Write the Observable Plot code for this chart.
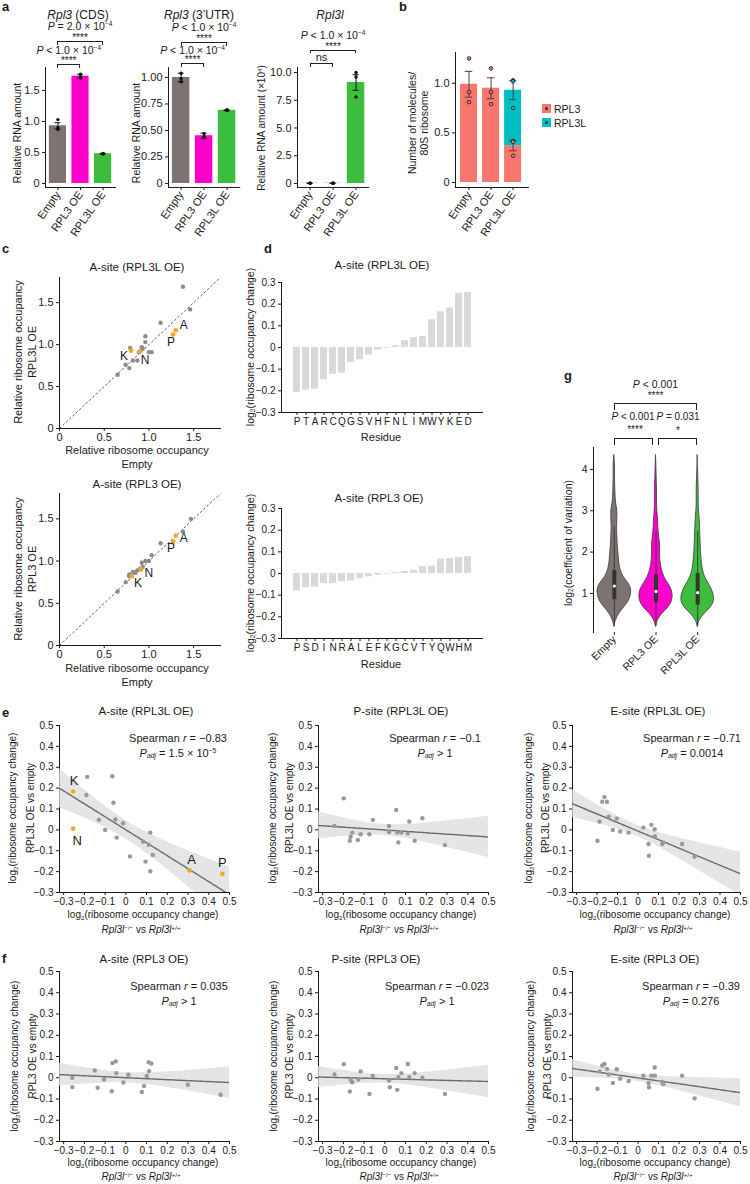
<!DOCTYPE html>
<html><head><meta charset="utf-8">
<script src="https://cdn.jsdelivr.net/npm/d3@7"></script>
<script src="https://cdn.jsdelivr.net/npm/@observablehq/plot@0.6"></script>
<style>
body{margin:0;background:#fff;}
#fig{position:relative;width:750px;height:1184px;overflow:hidden;font-family:"Liberation Sans",Arial,Helvetica,sans-serif;color:#1a1a1a;background:#fff;}
.t{position:absolute;white-space:nowrap;line-height:1;}
.t sup{font-size:0.62em;vertical-align:0.55em;line-height:0;}
.t sub{font-size:0.62em;vertical-align:-0.25em;line-height:0;}
.br{position:absolute;border:1px solid #222;border-bottom:none;box-sizing:border-box;}
</style></head><body><div id="fig"></div>
<script>
// ===================== DATA =====================
const groups = ["Empty", "RPL3 OE", "RPL3L OE"];
const groupColors = ["#7d7471", "#ff00cc", "#3dbd3d"];

// a: relative RNA amount
const cdsMean = [0.93, 1.73, 0.48];
const cdsSE = [0.05, 0.03, 0.006];
const cdsPoints = [[1.03, 0.90, 0.87], [1.76, 1.72, 1.70], [0.485, 0.48, 0.475]];
const utrMean = [1.00, 0.45, 0.69];
const utrSE = [0.04, 0.025, 0.004];
const utrPoints = [[1.04, 0.99, 0.96], [0.47, 0.44, 0.43], [0.695, 0.69, 0.69]];
const rpl3lMean = [0.02, 0.02, 9.1];
const rpl3lSE = [0.005, 0.005, 0.7];
const rpl3lPoints = [[0.02, 0.02, 0.02], [0.02, 0.02, 0.02], [10.0, 9.6, 7.8]];
const cdsTicks = [0, 0.5, 1.0, 1.5];
const utrTicks = [0, 0.25, 0.5, 0.75, 1.0];
const rpl3lTicks = [0, 2.5, 5, 7.5, 10];

// b: molecules per 80S ribosome
const proteins = ["RPL3", "RPL3L"];
const proteinColors = ["#f8766d", "#00bfc4"];
const bRPL3 = [0.99, 0.95, 0.37];
const bRPL3L = [0, 0, 0.56];
const bTotalSE = [0.13, 0.105, 0.095];
const bRPL3PartSE = [0, 0, 0.05];
const bPointsRPL3 = [[1.25, 0.91, 0.81], [1.15, 0.91, 0.79], [0.42, 0.41, 0.27]];
const bPointsTotalRPL3L = [[], [], [1.03, 0.75, 1.02]];
const bTicks = [0, 0.5, 1.0];

// c: relative ribosome occupancy (A-site)
const cL_empty = [1.38, 1.46, 1.13, 0.96, 0.96, 0.79, 0.92, 0.89, 1.00, 1.03, 0.87, 0.82, 0.74, 0.78, 0.65, 0.93, 1.30, 1.27, 0.80, 0.90];
const cL_oe    = [1.69, 1.42, 1.26, 1.10, 1.03, 0.96, 0.97, 0.91, 0.91, 0.91, 0.81, 0.81, 0.76, 0.72, 0.64, 0.95, 1.17, 1.12, 0.93, 0.92];
const cL_lab   = ["", "", "", "", "", "", "", "", "", "", "", "", "", "", "", "", "A", "P", "K", "N"];
const c3_empty = [1.47, 1.38, 1.13, 1.03, 1.00, 0.96, 0.92, 0.90, 0.87, 0.82, 0.78, 0.78, 0.74, 0.65, 0.93, 0.85, 1.30, 1.27, 0.81, 0.91];
const c3_oe    = [1.50, 1.35, 1.21, 1.07, 1.00, 1.00, 0.98, 0.91, 0.89, 0.87, 0.84, 0.82, 0.75, 0.64, 0.93, 0.86, 1.30, 1.23, 0.82, 0.90];
const c3_lab   = ["", "", "", "", "", "", "", "", "", "", "", "", "", "", "", "", "A", "P", "K", "N"];
const cTicks = [0, 0.5, 1.0, 1.5];

// d: log2 occupancy change per residue
const dL_res = ["P","T","A","R","C","Q","G","S","V","H","F","N","L","I","M","W","Y","K","E","D"];
const dL_val = [-0.208,-0.197,-0.192,-0.149,-0.123,-0.118,-0.069,-0.057,-0.035,-0.012,-0.003,0.008,0.031,0.046,0.051,0.128,0.165,0.182,0.251,0.254];
const d3_res = ["P","S","D","I","N","R","A","L","E","F","K","G","C","V","T","Y","Q","W","H","M"];
const d3_valR = [-0.080,-0.066,-0.063,-0.046,-0.046,-0.038,-0.034,-0.023,-0.015,-0.008,-0.003,0.005,0.009,0.015,0.031,0.034,0.066,0.069,0.074,0.077];
const dTicks = [-0.3, -0.2, -0.1, 0, 0.1, 0.2, 0.3];

// g: violins (density profile, normalised)
const vLevels = [0.2,0.35,0.5,0.65,0.8,0.95,1.1,1.25,1.4,1.6,1.8,2.0,2.2,2.4,2.6,2.8,3.0,3.2,3.5,3.8,4.1,4.35];
const vEmpty = [0,0.1,0.28,0.56,0.84,0.98,1.0,0.84,0.56,0.36,0.28,0.24,0.2,0.18,0.16,0.18,0.18,0.1,0.06,0.04,0.04,0];
const vRPL3  = [0,0.12,0.36,0.72,0.94,1.0,0.92,0.72,0.5,0.34,0.26,0.24,0.24,0.18,0.14,0.12,0.08,0.06,0.06,0.04,0.02,0];
const vRPL3L = [0,0.12,0.4,0.76,0.96,0.96,0.84,0.64,0.44,0.3,0.24,0.2,0.18,0.16,0.14,0.12,0.08,0.06,0.06,0.04,0.01,0];
const gMedian = [1.18, 1.05, 1.02];
const gQ1 = [0.85, 0.78, 0.72];
const gQ3 = [1.55, 1.45, 1.48];
const gWhiskLo = [0.2, 0.2, 0.2];
const gWhiskHi = [2.6, 2.5, 2.5];
const gTicks = [1, 2, 3, 4];

// e/f: log2 occupancy change, Rpl3l-/- vs +/+ (x) against OE vs empty (y)
const eA_x = [-0.254,-0.254,-0.19,-0.186,-0.13,-0.10,-0.065,-0.06,-0.05,-0.044,-0.013,0.02,0.083,0.095,0.11,0.118,0.118,0.13,0.307,0.466];
const eA_y = [0.184,0.006,0.167,0.254,0.048,0.0,0.257,0.13,0.05,-0.037,0.032,-0.127,-0.057,-0.152,-0.071,-0.013,-0.198,-0.12,-0.195,-0.211];
const eA_lab = ["K","N","","","","","","","","","","","","","","","","","A","P"];
const eP_x = [-0.243,-0.198,-0.169,-0.165,-0.157,-0.13,-0.117,-0.075,-0.058,0.02,0.02,0.055,0.06,0.065,0.08,0.111,0.118,0.144,0.181,0.29];
const eP_y = [0.019,0.151,-0.052,-0.033,-0.013,-0.048,-0.021,-0.021,0.048,0.019,-0.01,0.095,-0.013,-0.06,-0.013,-0.017,0.04,-0.052,0.056,-0.073];
const eE_x = [-0.198,-0.188,-0.175,-0.164,-0.152,-0.143,-0.123,-0.104,-0.087,-0.046,0.026,0.051,0.053,0.065,0.081,0.082,0.118,0.123,0.215,0.276];
const eE_y = [-0.052,0.04,0.135,0.157,0.135,0.063,0.0,0.054,-0.008,-0.013,0.011,-0.068,-0.124,0.024,0.003,-0.03,-0.068,-0.06,-0.068,-0.129];
const fA_x = [-0.258,-0.258,-0.15,-0.136,-0.105,-0.068,-0.065,-0.049,-0.046,-0.012,0.012,0.077,0.088,0.101,0.11,0.112,0.123,0.299,0.457];
const fA_y = [0.0,-0.044,0.034,-0.047,-0.008,-0.063,0.069,0.077,0.022,-0.022,0.014,-0.067,-0.039,0.008,0.073,0.031,0.067,-0.033,-0.08];
const fP_x = [-0.243,-0.198,-0.169,-0.165,-0.157,-0.128,-0.117,-0.074,-0.058,0.02,0.024,0.055,0.06,0.065,0.08,0.111,0.118,0.144,0.181,0.29];
const fP_y = [0.016,0.064,-0.065,-0.01,-0.021,-0.008,0.03,-0.076,0.008,-0.013,-0.045,0.046,-0.057,0.003,0.022,0.065,0.003,0.022,0.0,-0.076];
const fE_x = [-0.198,-0.188,-0.175,-0.164,-0.152,-0.143,-0.123,-0.104,-0.087,-0.046,0.026,0.051,0.053,0.065,0.081,0.082,0.118,0.123,0.215,0.276];
const fE_y = [-0.052,0.03,0.058,0.065,0.042,0.015,-0.025,0.04,-0.005,-0.015,0.01,-0.025,-0.045,0.01,0.048,0.01,-0.02,-0.03,0.01,-0.097];
const efTicks = [-0.3,-0.2,-0.1,0,0.1,0.2,0.3,0.4,0.5];

// ===================== HELPERS =====================
const fig = document.getElementById("fig");
const FONT = '"Liberation Sans", Arial, Helvetica, sans-serif';
const INK = "#1a1a1a";
const GRAYPT = "#999999";
const ORANGE = "#f6a623";

function plotAt([x0, x1, y0, y1], [mt, mr, mb, ml], opts, fontSize = 10) {
  const svg = Plot.plot({
    width: x1 - x0 + ml + mr,
    height: y1 - y0 + mt + mb,
    marginTop: mt, marginRight: mr, marginBottom: mb, marginLeft: ml,
    style: {fontFamily: FONT, fontSize: fontSize + "px", color: INK, background: "transparent", overflow: "visible"},
    ...opts
  });
  svg.style.position = "absolute";
  svg.style.left = (x0 - ml) + "px";
  svg.style.top = (y0 - mt) + "px";
  fig.appendChild(svg);
  return {svg, left: x0 - ml, top: y0 - mt};
}
function sx(p, v) { return p.left + p.svg.scale("x").apply(v); }
function txt(html, x, y, o = {}) {
  const d = document.createElement("div");
  d.className = "t";
  d.innerHTML = html;
  d.style.fontSize = (o.size || 11) + "px";
  if (o.weight) d.style.fontWeight = o.weight;
  d.style.left = x + "px";
  d.style.top = y + "px";
  const ax = o.anchor === "start" ? "0" : o.anchor === "end" ? "-100%" : "-50%";
  d.style.transform = `translate(${ax},-50%)` + (o.rotate ? ` rotate(${o.rotate}deg)` : "");
  fig.appendChild(d);
}
function bracket(xa, xb, y, leg, w = 1) {
  const d = document.createElement("div");
  d.className = "br";
  d.style.left = xa + "px"; d.style.top = y + "px";
  d.style.width = (xb - xa) + "px"; d.style.height = leg + "px";
  d.style.borderWidth = w + "px";
  fig.appendChild(d);
}
const fmt0 = p => d => d === 0 ? "0" : d3.format(p)(d);
const BAR_HW = 0.38, CAP = 0.13;

// ===================== PANEL a =====================
function panelA(frame, yDomain, ticks, fmt, means, ses, points) {
  const rows = groups.map((g, i) => ({g: i + 1, m: means[i], se: ses[i], c: groupColors[i]}));
  const pts = points.flatMap((arr, i) => arr.map(v => ({g: i + 1, v})));
  return plotAt(frame, [4, 6, 52, 32], {
    x: {domain: [0.45, 3.55], ticks: [1, 2, 3], tickFormat: i => groups[i - 1], tickRotate: -55, tickSize: 3, tickPadding: 2, line: true, label: null},
    y: {domain: yDomain, ticks, tickFormat: fmt, tickSize: 3, tickPadding: 3, line: true, label: null},
    color: {type: "identity"},
    marks: [
      Plot.rectY(rows, {x1: d => d.g - BAR_HW, x2: d => d.g + BAR_HW, y1: 0, y2: "m", fill: "c"}),
      Plot.ruleX(rows, {x: "g", y1: d => d.m - d.se, y2: d => d.m + d.se, stroke: "#111", strokeWidth: 1}),
      Plot.ruleY(rows, {y: d => d.m + d.se, x1: d => d.g - CAP, x2: d => d.g + CAP, stroke: "#111"}),
      Plot.ruleY(rows, {y: d => d.m - d.se, x1: d => d.g - CAP, x2: d => d.g + CAP, stroke: "#111"}),
      Plot.dot(pts, {x: "g", y: "v", r: 1.7, fill: "#111"})
    ]
  }, 11);
}
const a1 = panelA([45, 115, 67, 187], [-0.065, 1.87], cdsTicks, fmt0(".1f"), cdsMean, cdsSE, cdsPoints);
const a2 = panelA([168.4, 239.6, 67, 187], [-0.038, 1.094], utrTicks, fmt0(".2f"), utrMean, utrSE, utrPoints);
const a3 = panelA([297.4, 368.6, 67, 187], [-0.36, 10.45], rpl3lTicks, fmt0(".1f"), rpl3lMean, rpl3lSE, rpl3lPoints);

txt("<b>a</b>", 2, 6, {size: 13, anchor: "start"});
txt("<i>Rpl3</i> (CDS)", 78, 15, {size: 12});
txt("<i>Rpl3</i> (3’UTR)", 199, 15, {size: 12});
txt("<i>Rpl3l</i>", 330, 15, {size: 12});
txt("Relative RNA amount", 17, 133, {size: 10.5, rotate: -90});
txt("Relative RNA amount", 136, 133, {size: 10.5, rotate: -90});
txt("Relative RNA amount (×10<sup>4</sup>)", 262, 128, {size: 10, rotate: -90});

// significance brackets (stars drawn a little low: the glyph sits high in its box)
function sig(p, y, text, stars, yBr, leg, xa, xb) {
  txt(text, (xa + xb) / 2, y, {size: 10.5});
  if (stars) txt(stars, (xa + xb) / 2, yBr - 3.5, {size: 10});
  bracket(xa, xb, yBr, leg);
}
{
  const e = sx(a1, 1), r3 = sx(a1, 2), l = sx(a1, 3);
  sig(a1, 26, "<i>P</i> = 2.0 × 10<sup>−4</sup>", "****", 41, 4, e, l);
  sig(a1, 50, "<i>P</i> &lt; 1.0 × 10<sup>−4</sup>", "****", 64, 4, e, r3);
}
{
  const e = sx(a2, 1), r3 = sx(a2, 2), l = sx(a2, 3);
  sig(a2, 27, "<i>P</i> &lt; 1.0 × 10<sup>−4</sup>", "****", 42, 4, e, l);
  sig(a2, 50, "<i>P</i> &lt; 1.0 × 10<sup>−4</sup>", "****", 63, 4, e, r3);
}
{
  const e = sx(a3, 1), r3 = sx(a3, 2), l = sx(a3, 3);
  sig(a3, 35, "<i>P</i> &lt; 1.0 × 10<sup>−4</sup>", "****", 50, 3, e, l);
  txt("ns", (e + r3) / 2, 57, {size: 11});
  bracket(e, r3, 63, 4);
}

// ===================== PANEL b =====================
{
  const rows = groups.flatMap((g, i) => [
    {g: i + 1, y1: 0, y2: bRPL3[i], c: proteinColors[0]},
    {g: i + 1, y1: bRPL3[i], y2: bRPL3[i] + bRPL3L[i], c: proteinColors[1]}
  ]);
  const errs = groups.map((g, i) => ({g: i + 1, m: bRPL3[i] + bRPL3L[i], se: bTotalSE[i]}))
    .concat(groups.map((g, i) => ({g: i + 1, m: bRPL3[i], se: bRPL3PartSE[i]})).filter(d => d.se > 0));
  const pts = bPointsRPL3.flatMap((arr, i) => arr.map(v => ({g: i + 1, v, c: proteinColors[0]})))
    .concat(bPointsTotalRPL3L.flatMap((arr, i) => arr.map(v => ({g: i + 1, v, c: proteinColors[1]}))));
  plotAt([455, 528, 52, 187], [4, 6, 52, 30], {
    x: {domain: [0.386, 3.7], ticks: [1, 2, 3], tickFormat: i => groups[i - 1], tickRotate: -55, tickSize: 3, tickPadding: 2, line: true, label: null},
    y: {domain: [-0.05, 1.31], ticks: bTicks, tickFormat: fmt0(".1f"), tickSize: 3, tickPadding: 3, line: true, label: null},
    color: {type: "identity"},
    marks: [
      Plot.rectY(rows, {x1: d => d.g - 0.386, x2: d => d.g + 0.386, y1: "y1", y2: "y2", fill: "c"}),
      Plot.ruleX(errs, {x: "g", y1: d => d.m - d.se, y2: d => d.m + d.se, stroke: "#444"}),
      Plot.ruleY(errs, {y: d => d.m + d.se, x1: d => d.g - 0.17, x2: d => d.g + 0.17, stroke: "#444"}),
      Plot.ruleY(errs, {y: d => d.m - d.se, x1: d => d.g - 0.17, x2: d => d.g + 0.17, stroke: "#444"}),
      Plot.dot(pts, {x: "g", y: "v", r: 1.8, fill: "c", stroke: "#222", strokeWidth: 0.9})
    ]
  }, 11);
  txt("<b>b</b>", 399, 6, {size: 13, anchor: "start"});
  txt("Number of molecules/", 412, 123, {size: 10.5, rotate: -90});
  txt("80S ribosome", 424, 123, {size: 10.5, rotate: -90});
  proteins.forEach((p, i) => {
    const sq = document.createElement("div");
    sq.style.cssText = `position:absolute;left:542px;top:${104 + i * 14}px;width:9px;height:9px;background:${proteinColors[i]};`;
    const dot = document.createElement("div");
    dot.style.cssText = "position:absolute;left:3px;top:3px;width:3px;height:3px;border-radius:50%;background:#333;";
    sq.appendChild(dot);
    fig.appendChild(sq);
    txt(p, 554, 109 + i * 14, {size: 10.5, anchor: "start"});
  });
}

// ===================== PANEL c =====================
function panelC(frame, xs, ys, labs, offsets) {
  const rows = xs.map((x, i) => ({x, y: ys[i], lab: labs[i]}));
  const hi = rows.filter(d => d.lab);
  const cMax = 1.8;
  return plotAt(frame, [4, 6, 14, 22], {
    x: {domain: [0, cMax], ticks: cTicks, tickFormat: fmt0(".1f"), tickSize: 3, tickPadding: 2, line: true, label: null},
    y: {domain: [0, cMax], ticks: cTicks, tickFormat: fmt0(".1f"), tickSize: 3, tickPadding: 3, line: true, label: null},
    marks: [
      Plot.link([cMax], {x1: 0, y1: 0, x2: d => d, y2: d => d, stroke: "#333", strokeWidth: 0.8, strokeDasharray: "2.5,2"}),
      Plot.dot(rows.filter(d => !d.lab), {x: "x", y: "y", r: 2.2, fill: "#8c8c8c"}),
      Plot.dot(hi, {x: "x", y: "y", r: 2.4, fill: ORANGE}),
      ...hi.map(d => Plot.text([d], {x: "x", y: "y", text: "lab", dx: offsets[d.lab][0], dy: offsets[d.lab][1], fontSize: 12, fill: INK}))
    ]
  }, 11);
}
panelC([59, 220, 277, 428], cL_empty, cL_oe, cL_lab, {A: [8, -5], P: [-2, 8], K: [-7, 6], N: [5, 9]});
panelC([59, 220, 493, 645], c3_empty, c3_oe, c3_lab, {A: [8, 2], P: [-2, 7], N: [8, 4], K: [6, 7]});
txt("<b>c</b>", 2, 248, {size: 13, anchor: "start"});
txt("A-site (RPL3L OE)", 137, 268, {size: 11.5});
txt("A-site (RPL3 OE)", 137, 485, {size: 11.5});
txt("Relative ribosome occupancy", 18, 352, {size: 11, rotate: -90});
txt("RPL3L OE", 32, 352, {size: 11, rotate: -90});
txt("Relative ribosome occupancy", 18, 569, {size: 11, rotate: -90});
txt("RPL3 OE", 32, 569, {size: 11, rotate: -90});
txt("Relative ribosome occupancy", 137, 450, {size: 11});
txt("Empty", 137, 464, {size: 11});
txt("Relative ribosome occupancy", 137, 668, {size: 11});
txt("Empty", 137, 682, {size: 11});

// ===================== PANEL d =====================
function panelD(frame, res, vals) {
  const rows = res.map((r, i) => ({r, v: vals[i]}));
  return plotAt(frame, [4, 6, 14, 26], {
    x: {type: "band", domain: res, paddingInner: 0.24, paddingOuter: 0.98, tickSize: 3, tickPadding: 2, line: true, label: null},
    y: {domain: [-0.3, 0.3], ticks: dTicks, tickFormat: fmt0(".1f"), tickSize: 3, tickPadding: 3, line: true, label: null},
    marks: [
      Plot.barY(rows, {x: "r", y1: 0, y2: "v", fill: "#d9d9d9"})
    ]
  }, 10);
}
panelD([281, 482, 282, 412], dL_res, dL_val);
panelD([281, 482, 508, 638], d3_res, d3_valR);
txt("<b>d</b>", 264, 248, {size: 13, anchor: "start"});
txt("A-site (RPL3L OE)", 382, 266, {size: 11.5});
txt("A-site (RPL3 OE)", 379, 499, {size: 11.5});
txt("Residue", 381, 437, {size: 11});
txt("Residue", 381, 664, {size: 11});
txt("log<sub>2</sub>(ribosome occupancy change)", 250, 347, {size: 10.5, rotate: -90});
txt("log<sub>2</sub>(ribosome occupancy change)", 250, 573, {size: 10.5, rotate: -90});

// ===================== PANEL g =====================
{
  const profiles = [vEmpty, vRPL3, vRPL3L];
  const HW = 0.4;
  const vmarks = profiles.map((w, gi) => Plot.areaX(vLevels.map((y, k) => ({y, w: w[k]})), {
    y: "y", x1: d => gi + 1 - d.w * HW, x2: d => gi + 1 + d.w * HW,
    fill: groupColors[gi], stroke: "#3a3a3a", strokeWidth: 0.8, curve: "catmull-rom"
  }));
  const box = groups.map((g, i) => ({g: i + 1, med: gMedian[i], q1: gQ1[i], q3: gQ3[i], lo: gWhiskLo[i], hi: gWhiskHi[i]}));
  const pg = plotAt([593, 718, 447, 632], [4, 6, 56, 24], {
    x: {domain: [0.5, 3.5], ticks: [1, 2, 3], tickFormat: i => groups[i - 1], tickRotate: -45, tickSize: 3, tickPadding: 2, label: null},
    y: {domain: [0.056, 4.53], ticks: gTicks, tickFormat: d3.format("d"), tickSize: 3, tickPadding: 3, line: true, label: null},
    marks: [
      ...vmarks,
      Plot.ruleX(box, {x: "g", y1: "lo", y2: "hi", stroke: "#333", strokeWidth: 0.9}),
      Plot.ruleX(box, {x: "g", y1: "q1", y2: "q3", stroke: "#333", strokeWidth: 4}),
      Plot.dot(box, {x: "g", y: "med", r: 1.6, fill: "#fff"})
    ]
  }, 10.5);
  txt("<b>g</b>", 564, 375, {size: 13, anchor: "start"});
  txt("log<sub>2</sub>(coefficient of variation)", 568, 543, {size: 10.5, rotate: -90});
  const e = sx(pg, 1), r3 = sx(pg, 2), l = sx(pg, 3);
  txt("<i>P</i> &lt; 0.001", (e + l) / 2, 384, {size: 10.5});
  txt("****", (e + l) / 2, 396, {size: 10});
  bracket(e, l, 403, 7, 1.3);
  txt("<i>P</i> &lt; 0.001", 633, 417, {size: 10});
  txt("****", 635, 430, {size: 10});
  bracket(e, r3 - 2, 438, 7, 1.3);
  txt("<i>P</i> = 0.031", 678, 417, {size: 10});
  txt("*", 678, 431, {size: 10});
  bracket(r3 + 2, l, 438, 7, 1.3);
}

// ===================== PANELS e / f =====================
function olsBand(xs, ys, lo, hi) {
  const n = xs.length, mx = d3.mean(xs), my = d3.mean(ys);
  let sxx = 0, sxy = 0;
  for (let i = 0; i < n; i++) { sxx += (xs[i] - mx) ** 2; sxy += (xs[i] - mx) * (ys[i] - my); }
  const b = sxy / sxx, a = my - b * mx;
  let sse = 0;
  for (let i = 0; i < n; i++) sse += (ys[i] - a - b * xs[i]) ** 2;
  const s = Math.sqrt(sse / (n - 2)), t = 2.1;
  return d3.range(0, 81).map(k => {
    const x = lo + (hi - lo) * k / 80, f = a + b * x;
    const se = s * Math.sqrt(1 / n + (x - mx) ** 2 / sxx);
    return {x, f, lo: f - t * se, hi: f + t * se};
  });
}
function panelE(frame, xs, ys, labs, offsets) {
  const rows = xs.map((x, i) => ({x, y: ys[i], lab: labs ? labs[i] : ""}));
  const hi = rows.filter(d => d.lab);
  const band = olsBand(xs, ys, -0.32, 0.5);
  return plotAt(frame, [4, 6, 14, 26], {
    x: {domain: [-0.32, 0.5], ticks: efTicks, tickFormat: fmt0(".1f"), tickSize: 3, tickPadding: 2, line: true, label: null},
    y: {domain: [-0.3, 0.5], ticks: efTicks, tickFormat: fmt0(".1f"), tickSize: 3, tickPadding: 3, line: true, label: null},
    marks: [
      Plot.areaY(band, {x: "x", y1: "lo", y2: "hi", fill: "#dcdcdc", fillOpacity: 0.75, clip: true}),
      Plot.line(band, {x: "x", y: "f", stroke: "#6b6b6b", strokeWidth: 1.4, clip: true}),
      Plot.dot(rows.filter(d => !d.lab), {x: "x", y: "y", r: 2.2, fill: GRAYPT}),
      Plot.dot(hi, {x: "x", y: "y", r: 2.3, fill: ORANGE}),
      ...hi.map(d => Plot.text([d], {x: "x", y: "y", text: "lab", dx: offsets[d.lab][0], dy: offsets[d.lab][1], fontSize: 13, fill: INK}))
    ]
  }, 10);
}
panelE([59, 229, 725, 892], eA_x, eA_y, eA_lab, {K: [1, -11], N: [4, 12], A: [2, -11], P: [0, -11]});
panelE([318, 488, 725, 892], eP_x, eP_y, null, {});
panelE([572, 740, 725, 892], eE_x, eE_y, null, {});
panelE([59, 229, 971, 1141], fA_x, fA_y, null, {});
panelE([318, 488, 971, 1141], fP_x, fP_y, null, {});
panelE([572, 740, 971, 1141], fE_x, fE_y, null, {});

txt("<b>e</b>", 2, 712, {size: 13, anchor: "start"});
txt("<b>f</b>", 2, 958, {size: 13, anchor: "start"});
const efTitles = [
  ["A-site (RPL3L OE)", 146, 712], ["P-site (RPL3L OE)", 401, 712], ["E-site (RPL3L OE)", 658, 712],
  ["A-site (RPL3 OE)", 144, 960], ["P-site (RPL3 OE)", 376, 960], ["E-site (RPL3 OE)", 655, 960]
];
efTitles.forEach(([s, x, y]) => txt(s, x, y, {size: 11.5}));
const stats = [
  ["−0.83", "= 1.5 × 10<sup>−5</sup>", 178, 738], ["−0.1", "&gt; 1", 435, 738], ["−0.71", "= 0.0014", 692, 738],
  ["0.035", "&gt; 1", 179, 986], ["−0.023", "&gt; 1", 437, 986], ["−0.39", "= 0.276", 691, 986]
];
stats.forEach(([r, p, x, y]) => {
  txt(`Spearman <i>r</i> = ${r}`, x, y, {size: 11});
  txt(`<i>P</i><sub><i>adj</i></sub> ${p}`, x, y + 15, {size: 11});
});
const xCenters = [143, 401, 655];
[[915, 930], [1163, 1177]].forEach(([y1, y2]) => {
  xCenters.forEach(cx => {
    txt("log<sub>2</sub>(ribosome occupancy change)", cx, y1, {size: 10});
    txt("<i>Rpl3l</i><sup>−/−</sup> vs <i>Rpl3l</i><sup>+/+</sup>", cx - 2, y2, {size: 10});
  });
});
const yLab = [[13, 31, 808, "RPL3L OE vs empty"], [273, 290, 808, "RPL3L OE vs empty"], [529, 546, 808, "RPL3L OE vs empty"],
              [15, 33, 1056, "RPL3 OE vs empty"], [274, 290, 1056, "RPL3 OE vs empty"], [531, 548, 1056, "RPL3 OE vs empty"]];
yLab.forEach(([x1, x2, y, s]) => {
  txt("log<sub>2</sub>(ribosome occupancy change)", x1, y, {size: 10, rotate: -90});
  txt(s, x2, y, {size: 10, rotate: -90});
});
</script></body></html>
